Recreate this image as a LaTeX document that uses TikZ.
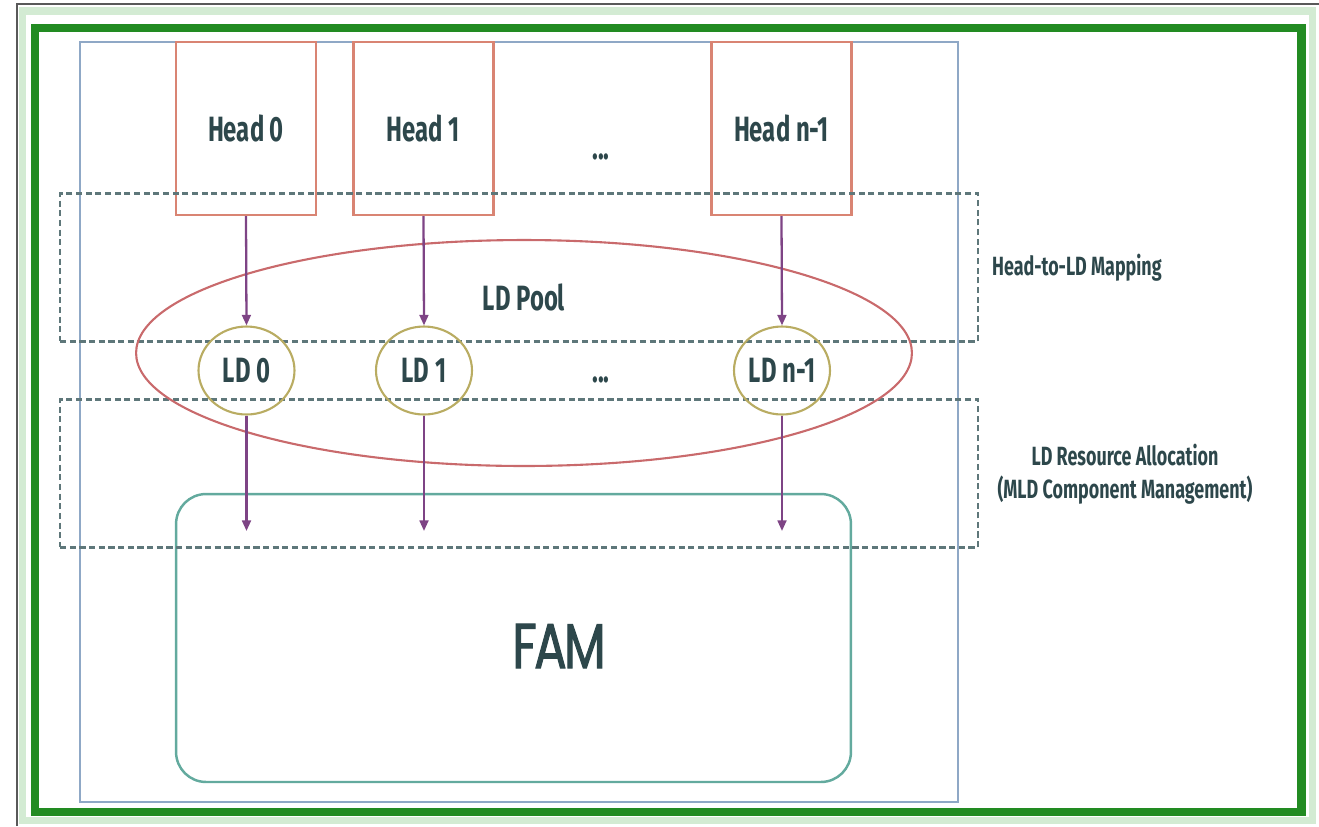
\documentclass[tikz,border=0pt]{standalone}
\usepackage{fontspec}
\usepackage{tikz}
\usetikzlibrary{arrows.meta, positioning, shapes.geometric}
\newfontfamily\dinfont{Fira Sans}[FakeStretch=0.68]
\newfontfamily\famfont{Poppins}[FakeStretch=0.76, FakeBold=1.6, LetterSpace=-4]
\definecolor{framecol}{HTML}{228B22}
\definecolor{bandcol}{HTML}{D3EBD3}
\definecolor{hostcol}{HTML}{8FA8C6}
\definecolor{headcol}{HTML}{D98473}
\definecolor{poolcol}{HTML}{C96A6C}
\definecolor{ldcol}{HTML}{B9AC62}
\definecolor{famcol}{HTML}{63AA9E}
\definecolor{zonecol}{HTML}{5E777A}
\definecolor{linkcol}{HTML}{7E4485}
\definecolor{txtcol}{HTML}{2D474B}

\begin{document}
\begin{tikzpicture}[x=0.02cm, y=-0.02cm,
  headbox/.style={draw=headcol, line width=1.2pt, minimum width=2.8cm, minimum height=3.46cm,
    font=\dinfont\bfseries\fontsize{20}{24}\selectfont, text=txtcol},
  ldnode/.style={ellipse, draw=ldcol, line width=1.2pt, minimum width=1.92cm, minimum height=1.76cm,
    inner sep=0pt, font=\dinfont\bfseries\fontsize{20}{24}\selectfont, text=txtcol},
  zone/.style={draw=zonecol, line width=1.4pt, dash pattern=on 3.5pt off 2pt,
    minimum width=18.36cm, minimum height=2.96cm},
  annot/.style={font=\dinfont\bfseries\fontsize{15}{19}\selectfont, text=txtcol, align=center},
  link/.style={-{Triangle[length=6pt, width=5pt]}, draw=linkcol, line width=1.3pt},
]
\useasboundingbox (0,0) rectangle (1319,826);

% outer frame
\draw[bandcol, line width=0.15cm] (22.5,11) rectangle (1312.5,820.5);
\draw[gray!70!black, line width=0.8pt] (17,826) -- (17,4) -- (1319,4);
\draw[framecol, line width=0.17cm] (35,28) rectangle (1301.5,812);

% host and FAM
\node[draw=hostcol, line width=1.2pt, minimum width=17.56cm, minimum height=15.2cm] (host) at (519,422) {};
\node[draw=famcol, line width=1.4pt, rounded corners=0.6cm, minimum width=13.5cm, minimum height=5.76cm] (fam) at (513.5,638) {};
\node[font=\famfont\fontsize{36}{40}\selectfont, text=txtcol, inner sep=0pt] (famlbl) at (559,646) {FAM};

% heads
\node[headbox] (head0) at (246,128.5) {Head 0};
\node[headbox] (head1) at (423.5,128.5) {Head 1};
\node[headbox] (headn) at (781.5,128.5) {Head n-1};
\node[font=\dinfont\bfseries\fontsize{20}{24}\selectfont, text=txtcol] (hdots) at (601,157) {...};

% dashed zones
\node[zone] (mapzone) at (519,267.5) {};
\node[zone] (alloczone) at (519,473.5) {};

% LD pool
\node[ellipse, draw=poolcol, line width=1.2pt, minimum width=15.52cm, minimum height=4.52cm] (pool) at (524,353) {};
\node[font=\dinfont\bfseries\fontsize{20}{24}\selectfont, text=txtcol] (poollbl) at (524,297) {LD Pool};

\node[ldnode] (ld0) at (246.5,370.5) {LD 0};
\node[ldnode] (ld1) at (424,370.5) {LD 1};
\node[ldnode] (ldn) at (782,370.5) {LD n-1};
\node[font=\dinfont\bfseries\fontsize{20}{24}\selectfont, text=txtcol] (ldots) at (601,380) {...};

% mapping arrows
\draw[link] (head0.south) -- (ld0.north);
\draw[link] (head1.south) -- (ld1.north);
\draw[link] (headn.south) -- (ldn.north);

% allocation arrows
\coordinate (tip0) at (246.5,531);
\coordinate (tip1) at (424,531);
\coordinate (tipn) at (782,531);
\draw[link] (ld0.south) -- (tip0);
\draw[link] (ld1.south) -- (tip1);
\draw[link] (ldn.south) -- (tipn);

% zone labels
\node[annot, anchor=west] (maplbl) at (986,268) {Head-to-LD Mapping};
\node[annot] (alloclbl) at (1125,474) {LD Resource Allocation\\(MLD Component Management)};

\end{tikzpicture}
\end{document}
